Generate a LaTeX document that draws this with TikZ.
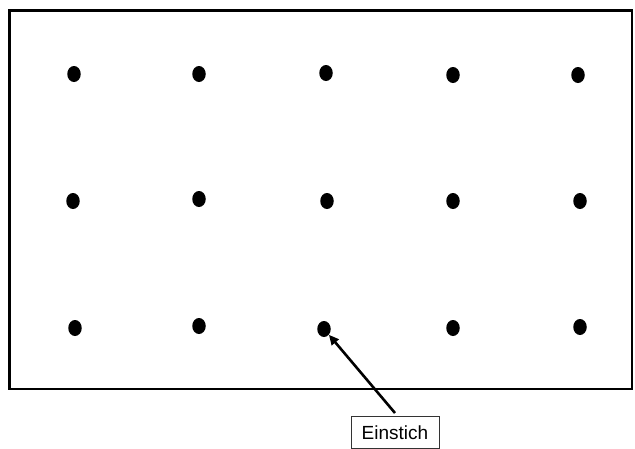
\documentclass[tikz,border=0pt]{standalone}
\usepackage{fontspec}
\setmainfont{Liberation Sans}
\usetikzlibrary{arrows.meta,shapes.geometric}
\begin{document}
\begin{tikzpicture}[x=1pt,y=-1pt,
  hole/.style={fill=black,draw=none,ellipse,minimum width=13.5pt,minimum height=16pt,inner sep=0pt},
  frame/.style={draw=black,line width=2.5pt},
  labelbox/.style={draw=black!80,line width=0.9pt,fill=white,inner xsep=6pt,inner ysep=5pt,font=\fontsize{19}{21}\selectfont},
  pointer/.style={draw=black,line width=2.6pt,-{Triangle[length=10pt,width=9pt]}}]
\useasboundingbox (0,0) rectangle (635,448);
\draw[frame] (9.5,10.5) rectangle (632,389);
\node[hole] (d11) at (74,74) {};
\node[hole] (d12) at (199,74) {};
\node[hole] (d13) at (326,73) {};
\node[hole] (d14) at (453,75) {};
\node[hole] (d15) at (578,75) {};
\node[hole] (d21) at (73,201) {};
\node[hole] (d22) at (199,199) {};
\node[hole] (d23) at (327,201) {};
\node[hole] (d24) at (453,201) {};
\node[hole] (d25) at (580,201) {};
\node[hole] (d31) at (75,328) {};
\node[hole] (d32) at (199,326) {};
\node[hole] (d33) at (324,329) {};
\node[hole] (d34) at (453,328) {};
\node[hole] (d35) at (580,327) {};
\node[labelbox,anchor=north,minimum width=88pt,minimum height=32pt] (lab) at (395,416) {Einstich};
\coordinate (tail) at (395,413);
\draw[pointer] (tail) -- (d33.south east);
\end{tikzpicture}
\end{document}
